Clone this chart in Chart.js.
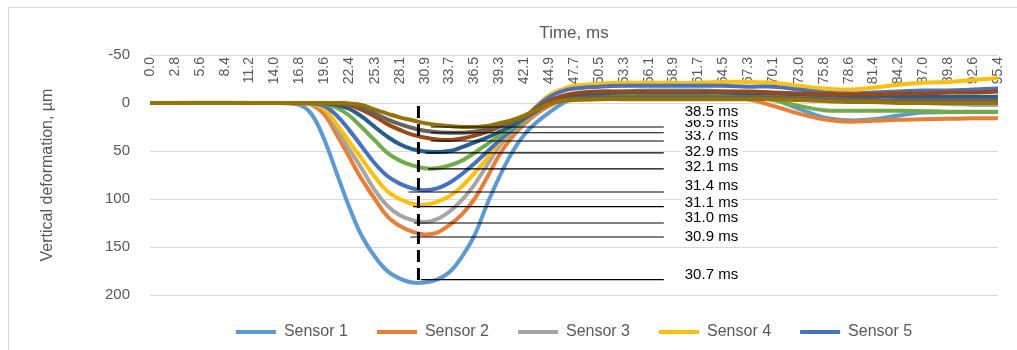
<!DOCTYPE html>
<html>
<head>
<meta charset="utf-8">
<title>Vertical deformation</title>
<script src="https://cdn.jsdelivr.net/npm/chart.js@4.4.0/dist/chart.umd.min.js"></script>
<style>
    html, body { margin: 0; padding: 0; background: #fff; }
    #wrap { position: relative; width: 1017px; height: 350px; overflow: hidden; }
    #frame { position: absolute; left: 8px; top: 7px; width: 1040px; height: 380px; border: 1px solid #d9d9d9; }
    #chart { position: absolute; left: 0; top: 0; }
</style>
</head>
<body>
<div id="wrap">
    <div id="frame"></div>
    <canvas id="chart" width="1017" height="350"></canvas>
</div>
<script>
// time of each reading, ms
const times = [0, 14.0, 16.8, 18.2, 19.6, 21.0, 22.4, 23.8, 25.3, 26.7, 28.1, 29.5, 30.9, 32.3, 33.7, 35.1,
    36.5, 37.9, 39.3, 40.7, 42.1, 43.5, 44.9, 46.3, 47.7, 50.5, 53.3, 56.1, 58.9, 61.7, 64.5, 67.3,
    70.1, 73.0, 75.8, 78.6, 81.4, 84.2, 87.0, 89.8, 92.6, 95.4];

const tickTimes = [0.0, 2.8, 5.6, 8.4, 11.2, 14.0, 16.8, 19.6, 22.4, 25.3, 28.1, 30.9, 33.7, 36.5, 39.3,
    42.1, 44.9, 47.7, 50.5, 53.3, 56.1, 58.9, 61.7, 64.5, 67.3, 70.1, 73.0, 75.8, 78.6, 81.4, 84.2,
    87.0, 89.8, 92.6, 95.4];

const sensorNames = ["Sensor 1", "Sensor 2", "Sensor 3", "Sensor 4", "Sensor 5",
    "Sensor 6", "Sensor 7", "Sensor 8", "Sensor 9", "Sensor 10"];

// vertical deformation, µm (positive = downwards)
const sensor1 = [0, 0, 2, 12, 38, 73, 108, 138, 160, 175, 183, 187, 187, 184, 176, 160, 138, 106, 77, 52, 33, 20,
    10, 1, -5, -10, -12, -13, -13, -13, -12, -10, -4, 6, 15, 18, 17, 13, 10, 9.5, 9.5, 9.5];
const sensor2 = [0, 0, 0.5, 2, 12, 33, 56, 79, 100, 118, 128, 134, 137, 135, 127, 116, 100, 78, 54, 36, 22, 11,
    3, -3, -6, -8, -8, -8, -7, -6, -5, -4, 3, 11, 17, 19.5, 18.5, 17.5, 17, 16.5, 16, 16];
const sensor3 = [0, 0, 0, 1, 7, 27, 48, 68, 91, 107, 117, 122, 124, 121, 113, 101, 85, 65, 45, 31, 19, 9,
    1, -5, -9, -11, -11, -11, -11, -11, -11, -10, -10, -7, -4, -2, -2, -1, 0, 1, 2, 2];
const sensor4 = [0, 0, 0, 1, 6, 22, 40, 58, 77, 92, 100, 105, 106, 103, 97, 87, 73, 58, 41, 28, 16, 3,
    -8, -14, -18, -20, -21, -21, -21, -21, -22, -22, -21, -18, -15, -14, -16, -19, -21, -22, -24, -26];
const sensor5 = [0, 0, 0, 0.5, 3, 13, 28, 45, 63, 76, 84, 89, 91, 89, 83, 74, 63, 51, 39, 28, 17, 4,
    -6, -12, -15, -17, -18, -18, -18, -18, -18, -17, -17, -14, -11, -10, -11, -12, -13, -13, -14, -15];
const sensor6 = [0, 0, 0, 0, 1, 5, 13, 25, 39, 52, 60, 65, 68, 68, 65, 60, 52, 43, 34, 26, 17, 8,
    0, -4, -6, -8, -8, -8, -8, -8, -8, -7, -3, 3, 7.5, 8, 8, 8, 8.5, 9, 9, 9];
const sensor7 = [0, 0, 0, 0, 0.5, 2, 6, 14, 25, 35, 43, 48, 50.5, 51, 50, 46, 41, 36, 30, 24, 16, 8,
    0, -5, -8, -10, -11, -11, -11, -11, -11, -10, -10, -9, -8, -7, -7, -7, -7, -6.5, -6.5, -6.5];
const sensor8 = [0, 0, 0, 0, 0, 0.5, 2, 7, 14, 22, 28, 33, 36, 38, 38.5, 37, 34, 30, 25, 20, 15, 6,
    -2, -7, -10, -12, -12, -12, -12, -12, -12, -12, -11, -10, -9, -9, -9, -10, -10, -11, -11, -12];
const sensor9 = [0, 0, 0, 0, 0, 0, 1, 4, 11, 17, 22, 26, 29, 30.5, 31, 31, 30, 27, 24, 20, 15, 8,
    1, -3, -5, -6, -6, -6, -6, -6, -6, -6, -6, -5, -4, -4, -3, -3, -3, -3, -3, -3];
const sensor10 = [0, 0, 0, 0, 0, 0, 0.5, 2, 7, 11, 15, 18, 21, 23, 24, 25, 25, 24, 21, 18, 13, 7,
    1, -2, -3, -4, -4, -4, -4, -4, -4, -4, -4, -3, -2, -1, -1, 0, 0, 0, 0, 0];

// time of peak deformation for each sensor and its marker line
const peakLabels = ["30.7 ms", "30.9 ms", "31.0 ms", "31.1 ms", "31.4 ms", "32.1 ms", "32.9 ms", "33.7 ms", "36.5 ms", "38.5 ms"];
const peakDepths = [184, 139.6, 125, 108, 92.7, 68.7, 52, 39.6, 31, 25];
const peakLineStarts = [30.5, 29.3, 29.7, 29.6, 29.1, 31.3, 31.0, 31.6, 31.6, 31.6];
const peakLineEnd = 57.8;
const peakLabelDepths = [179, 139.6, 119.8, 104.2, 86.5, 66.7, 51, 34.4, 20.8, 9.4];

// dashed marker of the sensor 1 peak
const peakMarkTime = 30.2;
const peakMarkRange = [3, 190];

const colors = ["#5b9bd5", "#ed7d31", "#a5a5a5", "#ffc000", "#4472c4",
    "#70ad47", "#255e91", "#9e480e", "#636363", "#997300"];

const FONT = "'Liberation Sans', Arial, sans-serif";
Chart.defaults.font.family = FONT;
Chart.defaults.color = "#595959";

const series = [sensor1, sensor2, sensor3, sensor4, sensor5, sensor6, sensor7, sensor8, sensor9, sensor10];

let datasets = series.map((vals, i) => ({
    label: sensorNames[i],
    data: vals.map((v, k) => ({ x: times[k], y: v })),
    borderColor: colors[i],
    backgroundColor: colors[i],
    borderWidth: 4,
    pointRadius: 0,
    tension: 0.4,
    order: 20 - i
}));

peakDepths.forEach((v, i) => {
    datasets.push({
        label: "peak " + peakLabels[i],
        data: [{ x: peakLineStarts[i], y: v }, { x: peakLineEnd, y: v }],
        borderColor: "#000",
        borderWidth: 1.2,
        pointRadius: 0,
        order: 2
    });
});

datasets.push({
    label: "peak mark",
    data: [{ x: peakMarkTime, y: peakMarkRange[0] }, { x: peakMarkTime, y: peakMarkRange[1] }],
    borderColor: "#000",
    borderWidth: 3,
    borderDash: [12, 6],
    pointRadius: 0,
    order: 1
});

// text boxes with the peak times
const peakLabelPlugin = {
    id: "peakLabels",
    afterDatasetsDraw(chart) {
        const { ctx } = chart;
        const x = chart.scales.x, y = chart.scales.y;
        ctx.save();
        ctx.font = "15px " + FONT;
        ctx.textBaseline = "middle";
        ctx.textAlign = "left";
        peakLabels.forEach((txt, i) => {
            let px = x.getPixelForValue(peakLineEnd) + 21;
            let py = y.getPixelForValue(peakLabelDepths[i]);
            let w = ctx.measureText(txt).width;
            ctx.fillStyle = "#fff";
            ctx.fillRect(px - 4, py - 8, w + 8, 16);
            ctx.fillStyle = "#000";
            ctx.fillText(txt, px, py);
        });
        ctx.restore();
    }
};

new Chart(document.getElementById("chart"), {
    type: "line",
    data: { datasets: datasets },
    plugins: [peakLabelPlugin],
    options: {
        responsive: false,
        animation: false,
        layout: { padding: { left: 28, right: 19, top: 8, bottom: 0 } },
        scales: {
            x: {
                type: "linear",
                position: { y: -50 },
                min: 0,
                max: 95.4,
                afterBuildTicks: (scale) => {
                    scale.ticks = tickTimes.map(v => ({ value: v }));
                },
                ticks: {
                    minRotation: 90,
                    maxRotation: 90,
                    autoSkip: false,
                    padding: 2,
                    font: { size: 14 },
                    callback: (v) => Number(v).toFixed(1)
                },
                grid: { display: false, drawTicks: false },
                border: { display: false }
            },
            y: {
                reverse: true,
                min: -50,
                max: 200,
                ticks: { stepSize: 50, padding: 20, font: { size: 15 } },
                grid: { color: "#d9d9d9", drawTicks: false },
                border: { display: false },
                title: {
                    display: true,
                    text: "Vertical deformation, µm",
                    font: { size: 16 },
                    padding: { top: 10, bottom: 0 }
                },
                afterFit: (scale) => { scale.width = 122; }
            }
        },
        plugins: {
            title: {
                display: true,
                text: "Time, ms",
                fullSize: false,
                color: "#595959",
                font: { size: 17, weight: "normal" },
                padding: { top: 15, bottom: 11.6 }
            },
            legend: {
                position: "bottom",
                fullSize: false,
                labels: {
                    usePointStyle: true,
                    pointStyle: "line",
                    pointStyleWidth: 40,
                    padding: 29,
                    font: { size: 16 },
                    color: "#595959",
                    filter: (item) => item.datasetIndex < 5,
                    sort: (a, b) => a.datasetIndex - b.datasetIndex
                }
            },
            tooltip: { enabled: false }
        }
    }
});
</script>
</body>
</html>
